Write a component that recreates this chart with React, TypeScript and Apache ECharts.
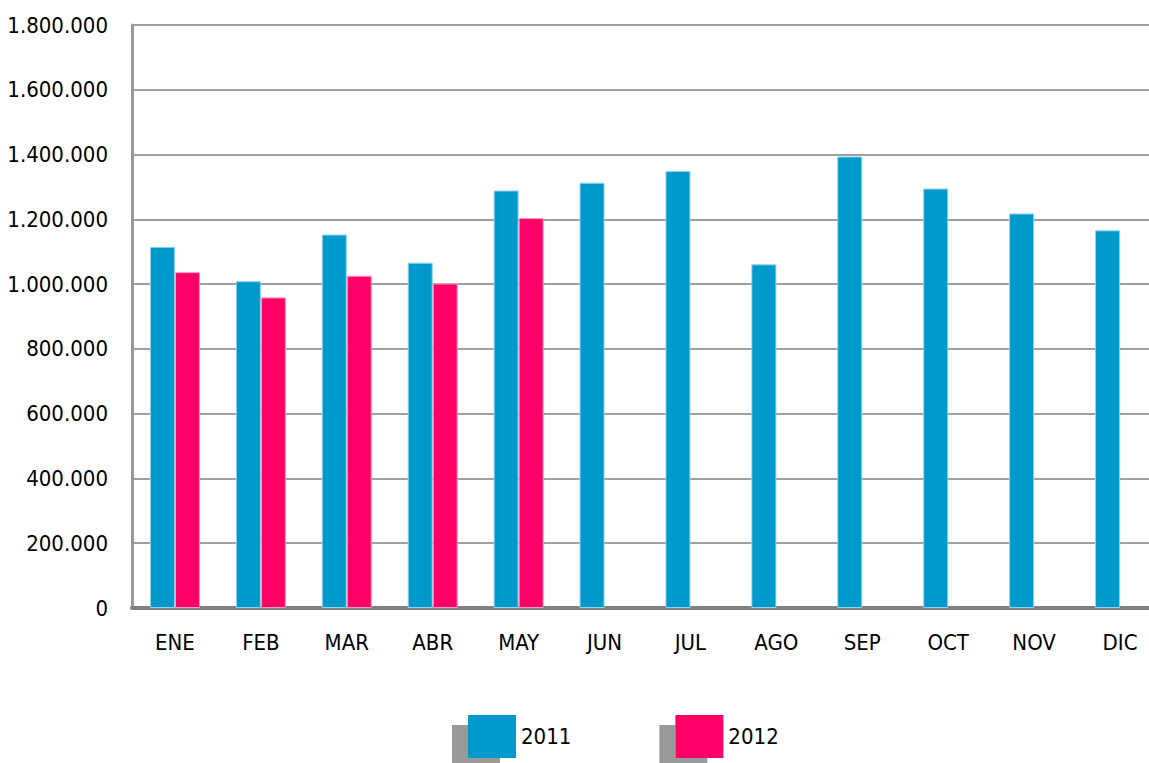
import React, { useEffect, useRef } from "react";
import * as echarts from "echarts";

const categories = ["ENE", "FEB", "MAR", "ABR", "MAY", "JUN", "JUL", "AGO", "SEP", "OCT", "NOV", "DIC"];
const values2011 = [1115000, 1009000, 1153000, 1066000, 1289000, 1313000, 1349000, 1061000, 1394000, 1295000, 1218000, 1166000];
const values2012 = [1037000, 959000, 1026000, 1002000, 1204000, null, null, null, null, null, null, null];
const seriesNames = ["2011", "2012"];

const FONT = "'Liberation Sans Narrow', 'Arial Narrow', 'DejaVu Sans Condensed', sans-serif";

function fmt(v: number): string {
  return String(Math.round(v)).replace(/\B(?=(\d{3})+(?!\d))/g, ".");
}

export default function App() {
  const ref = useRef<HTMLDivElement>(null);
  useEffect(() => {
    if (!ref.current) return;
    const chart = echarts.init(ref.current, undefined, { renderer: "svg" });
    chart.setOption({
      animation: false,
      backgroundColor: "#ffffff",
      grid: { left: 132, top: 25, bottom: 155, right: 0, containLabel: false },
      legend: {
        left: 468,
        top: 715,
        padding: 0,
        icon: "rect",
        itemWidth: 48,
        itemHeight: 43,
        itemGap: 104,
        itemTextGap: 4,
        data: seriesNames,
        textStyle: { fontFamily: FONT, fontSize: 22, color: "#000" },
        itemStyle: {
          borderWidth: 0,
          shadowColor: "#999999",
          shadowBlur: 0,
          shadowOffsetX: -16,
          shadowOffsetY: 10,
        },
      },
      xAxis: {
        type: "category",
        data: categories,
        axisLine: { show: true, lineStyle: { color: "#808080", width: 4 } },
        axisTick: { show: false },
        axisLabel: { fontFamily: FONT, fontSize: 22, color: "#000", margin: 23 },
      },
      yAxis: {
        type: "value",
        min: 0,
        max: 1800000,
        interval: 200000,
        axisLine: { show: true, lineStyle: { color: "#999999", width: 3 } },
        axisTick: { show: false },
        splitLine: { show: true, lineStyle: { color: "#a0a0a0", width: 2 } },
        axisLabel: {
          fontFamily: FONT,
          fontSize: 22,
          color: "#000",
          margin: 24,
          formatter: (v: number) => fmt(v),
        },
      },
      series: [
        {
          name: seriesNames[0],
          type: "bar",
          data: values2011,
          barWidth: 25,
          barGap: 0,
          itemStyle: { color: "#0099cc", borderColor: "#8fd3ec", borderWidth: 1 },
        },
        {
          name: seriesNames[1],
          type: "bar",
          data: values2012,
          barWidth: 25,
          barGap: 0,
          itemStyle: { color: "#ff0066", borderColor: "#ff9cc2", borderWidth: 1 },
        },
      ],
    });
    return () => chart.dispose();
  }, []);
  return (
    <div
      style={{ position: "absolute", left: 0, top: 0, width: 1149, height: 763, overflow: "hidden", background: "#fff" }}
    >
      <div ref={ref} style={{ width: 1163, height: 763 }} />
    </div>
  );
}
